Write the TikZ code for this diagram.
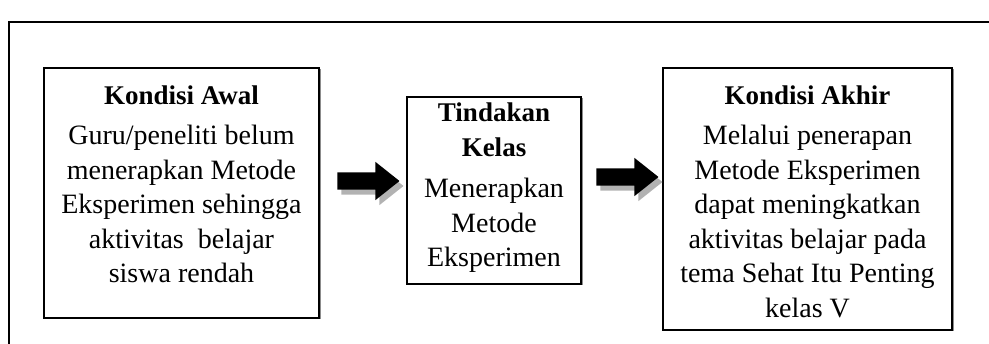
\documentclass[tikz,border=0pt]{standalone}
\usepackage{fontspec}
\setmainfont{Liberation Serif}
\usetikzlibrary{positioning,calc,shapes.arrows,shadows}

\tikzset{
	kotak/.style={draw, line width=1.5pt, fill=white, inner sep=0pt, outer sep=0pt,
		drop shadow={shadow xshift=1.5pt, shadow yshift=-1.5pt, fill=black!45, opacity=1}},
	judul/.style={font=\fontsize{27}{35}\selectfont\bfseries, align=center, inner sep=0pt, anchor=base},
	isi/.style={font=\fontsize{28}{34.5}\selectfont, align=center, inner sep=0pt, anchor=base},
	panah/.style={single arrow, fill=black, draw=none, inner xsep=0pt, inner ysep=8.5pt,
		minimum height=62pt, single arrow head extend=10.5pt,
		single arrow tip angle=77,
		drop shadow={shadow xshift=4pt, shadow yshift=-5pt, fill=black!30, opacity=1}}
}

\begin{document}
\begin{tikzpicture}[x=1pt, y=-1pt]
	\useasboundingbox (0,0) rectangle (989,344);
	% Rahmen luar
	\draw[line width=1.5pt] (9,1000) -- (9,22) -- (1000,22);

	% Kotak
	\node[kotak, minimum width=275pt, minimum height=250pt] (awal) at (181.5,193) {};
	\node[kotak, minimum width=174pt, minimum height=187pt] (tindakan) at (494,190.5) {};
	\node[kotak, minimum width=289pt, minimum height=262pt] (akhir) at (807.5,199) {};

	% Isi kotak (anchor base = garis terakhir)
	\node[judul] (judulAwal) at ([yshift=-37pt]awal.north) {Kondisi Awal};
	\node[isi] (isiAwal) at ([yshift=-215pt]awal.north) {Guru/peneliti belum\\
	menerapkan Metode\\ Eksperimen sehingga\\ aktivitas\ \ belajar\\ siswa rendah};
	\node[judul] (judulTindakan) at ([yshift=-59.5pt]tindakan.north) {Tindakan\\ Kelas};
	\node[isi] (isiTindakan) at ([yshift=-170pt]tindakan.north) {Menerapkan\\
	Metode\\ Eksperimen};
	\node[judul] (judulAkhir) at ([yshift=-37pt]akhir.north) {Kondisi Akhir};
	\node[isi] (isiAkhir) at ([yshift=-249.5pt]akhir.north) {Melalui penerapan\\
	Metode Eksperimen\\ dapat meningkatkan\\ aktivitas belajar pada\\
	tema Sehat Itu Penting\\ kelas V};

	% Panah
	\node[panah] (panah1) at ([yshift=10.75pt]$(awal.east)!0.5!(tindakan.west)$) {};
	\node[panah] (panah2) at ([yshift=17.75pt]$(tindakan.east)!0.5!(akhir.west)$) {};
\end{tikzpicture}
\end{document}
